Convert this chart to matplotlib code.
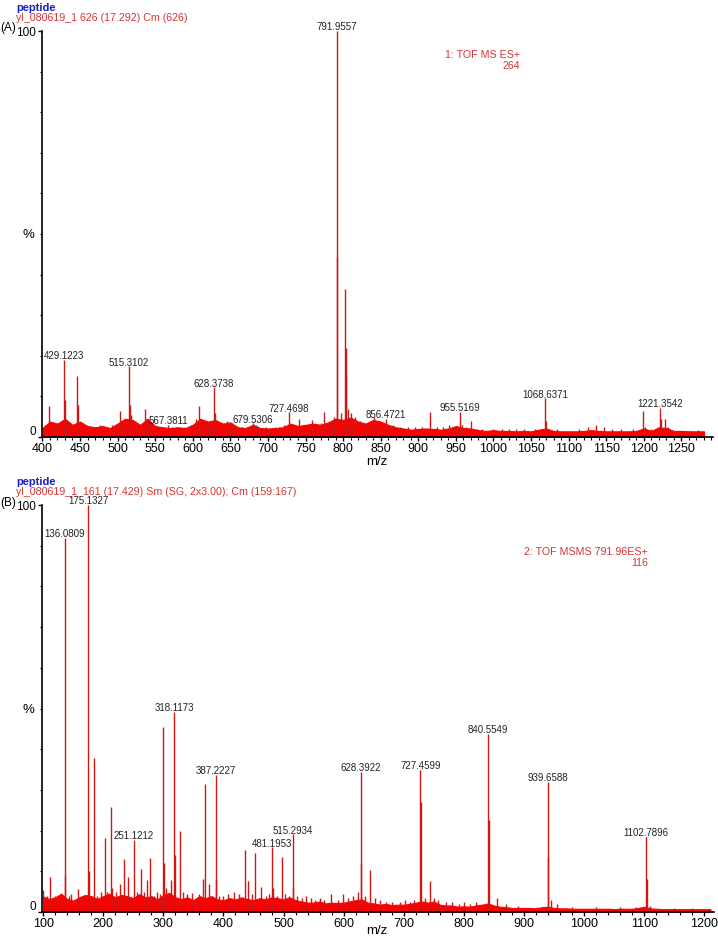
import numpy as np
import matplotlib
matplotlib.use("Agg")
import matplotlib.pyplot as plt
from matplotlib.ticker import MultipleLocator, FixedLocator

plt.rcParams['font.family'] = ['Liberation Sans', 'DejaVu Sans']

# ---------------- panel A : TOF MS ES+ ----------------
a_base_mz = list(range(400, 1290, 10))
a_base_h = [2.2, 3.8, 3.3, 4.5, 3.0, 3.8, 2.7, 2.4, 2.7, 2.2,
            3.3, 4.5, 4.2, 3.0, 4.5, 2.7, 2.4, 2.2, 2.4, 2.2,
            3.0, 4.5, 3.8, 4.2, 3.3, 3.6, 2.4, 2.2, 3.0, 2.2,
            2.1, 2.2, 2.4, 3.3, 2.7, 3.0, 3.3, 3.0, 3.6, 4.5,
            4.2, 4.8, 3.8, 3.3, 4.2, 3.8, 3.0, 2.4, 2.1, 1.8,
            2.0, 2.1, 2.0, 1.8, 2.1, 2.7, 2.2, 2.1, 1.7, 1.5,
            1.7, 1.5, 1.5, 1.4, 1.5, 1.4, 1.8, 2.1, 1.5, 1.4,
            1.4, 1.4, 1.5, 1.7, 1.5, 1.4, 1.4, 1.4, 1.4, 1.5,
            2.1, 1.5, 2.4, 2.2, 1.5, 1.5, 1.4, 1.4, 1.4]

a_peak_mz = [403, 409, 415, 421, 429.12, 430.1, 432, 437, 446, 447, 449, 455,
             460, 470, 477, 484, 493, 503, 505, 509, 515.31, 516.3, 518, 524,
             531, 537, 538, 541, 547, 553, 560, 567.38, 573, 579, 589, 597,
             604, 608, 610, 615, 620, 623, 628.37, 629.4, 635, 640, 646, 649,
             652, 659, 666, 672, 679.53, 684, 690, 697, 703, 709, 715, 721,
             727.47, 734, 741, 745, 753, 759, 766, 770, 775, 781, 785, 788,
             791.96, 792.46, 797, 802.95, 803.45, 803.95, 806, 810.9, 811.4,
             816, 822, 830, 836, 841, 845, 850, 856.47, 861, 866, 876, 886,
             895, 905, 915, 925, 933, 941, 948, 955.52, 958, 964, 970, 978,
             985, 1000, 1012, 1020, 1030, 1041, 1055, 1068.64, 1070, 1085,
             1100, 1114, 1126, 1136, 1147, 1158, 1170, 1186, 1199.3, 1201,
             1210, 1221.35, 1223, 1228, 1232, 1245, 1260, 1272]
a_peak_h = [3.0, 7.7, 3.0, 3.5, 19.0, 9.0, 4.0, 3.5, 15.0, 8.0, 3.0, 3.0,
            2.5, 2.5, 3.0, 2.5, 3.0, 6.5, 4.0, 3.5, 17.4, 8.0, 5.5, 3.0,
            3.0, 7.0, 4.5, 3.0, 3.0, 2.5, 2.5, 3.0, 2.5, 2.5, 2.5, 3.0,
            4.5, 7.6, 4.5, 3.5, 3.0, 3.5, 12.2, 6.0, 3.5, 3.0, 4.0, 3.0,
            3.5, 2.5, 2.5, 2.5, 3.4, 3.0, 2.0, 2.5, 2.0, 2.5, 2.5, 3.0,
            6.1, 3.0, 4.5, 2.5, 3.0, 4.3, 2.5, 3.5, 6.2, 3.5, 4.0, 5.0,
            100.0, 44.4, 6.0, 36.5, 22.0, 15.0, 7.0, 6.0, 4.0,
            5.0, 4.0, 3.0, 3.5, 5.0, 3.5, 3.5, 4.4, 3.0, 3.0, 2.5, 2.5,
            2.5, 2.5, 6.2, 2.5, 2.5, 3.0, 2.5, 6.2, 3.0, 2.5, 4.0, 2.0,
            2.0, 2.0, 2.0, 2.0, 2.0, 2.0, 2.0, 9.5, 4.0, 2.0,
            1.5, 2.0, 2.5, 3.0, 2.5, 2.0, 2.0, 2.0, 6.4, 2.5,
            2.0, 7.2, 4.4, 4.4, 2.5, 1.5, 1.5, 1.8]

a_lab_mz = [429.12, 515.31, 567.38, 628.37, 679.53, 727.47, 791.96,
            856.47, 955.52, 1068.64, 1221.35]
a_lab_h = [19.0, 17.4, 3.0, 12.2, 3.4, 6.1, 100.0, 4.4, 6.2, 9.5, 7.2]
a_lab_txt = ["429.1223", "515.3102", "567.3811", "628.3738", "679.5306",
             "727.4698", "791.9557", "856.4721", "955.5169", "1068.6371",
             "1221.3542"]

# ---------------- panel B : TOF MSMS 791.96ES+ ----------------
b_base_mz = list(range(100, 1220, 10))
b_base_h = [3.8, 3.2, 3.6, 4.5, 3.2, 2.8, 3.6, 4.2, 3.9, 3.2,
            3.9, 4.5, 3.6, 4.2, 3.9, 3.4, 4.4, 3.6, 3.9, 3.1,
            4.2, 4.7, 3.6, 3.2, 3.6, 2.9, 3.9, 3.4, 3.9, 3.1,
            2.9, 3.4, 3.1, 3.6, 3.2, 2.9, 3.4, 3.1, 3.6, 3.4,
            3.1, 3.6, 2.9, 2.6, 2.3, 2.3, 2.6, 2.1, 2.3, 2.2,
            2.3, 2.6, 2.9, 3.1, 2.3, 2.1, 1.8, 2.0, 1.7, 1.8,
            1.8, 2.0, 2.3, 2.6, 2.3, 2.6, 1.8, 1.6, 1.6, 1.3,
            1.4, 1.3, 1.6, 1.8, 2.1, 1.6, 1.3, 1.2, 1.0, 1.0,
            1.0, 1.0, 0.9, 1.2, 1.3, 1.0, 0.9, 0.9, 0.8, 0.8,
            0.8, 0.8, 0.8, 0.8, 0.8, 0.7, 0.8, 0.8, 0.8, 1.0,
            1.3, 0.9, 0.8, 0.7, 0.7, 0.7, 0.7, 0.7, 0.7, 0.7,
            0.7, 0.7]

b_peak_mz = [100.3, 106, 111.5, 120, 128, 136.08, 137.1, 143, 147, 157.6,
             165, 175.13, 176.1, 184.2, 190, 196, 202.5, 206, 212.5, 214,
             222, 228.5, 235.1, 241.8, 250.7, 256, 262.4, 267, 272.4, 278.4,
             284, 289.5, 294, 300, 301, 305, 312.3, 318.12, 319.1, 327.3,
             333, 340, 348.3, 356, 360, 365.6, 368.9, 376, 387.22, 388.2,
             393, 400, 408, 417, 426, 435.4, 441.4, 447, 452.6, 462.6, 470,
             475, 481.2, 482.2, 489, 497.5, 503, 509, 515.29, 516.3, 523,
             530, 538, 545, 552, 560, 568, 579.6, 590, 598.5, 607, 615, 623,
             628.39, 629.4, 636, 644, 652, 660, 670, 680, 694, 702, 710,
             717, 727.46, 728.46, 735, 743.3, 750, 757, 770, 780, 792, 800,
             810, 820, 840.55, 841.55, 855.7, 870, 890, 921, 939.66, 940.66,
             945, 955, 980, 1020, 1060, 1087, 1102.79, 1103.79, 1110, 1150,
             1180]
b_peak_h = [5.5, 4.0, 8.5, 4.0, 3.5, 92.0, 9.0, 4.0, 4.5, 5.6,
            4.0, 100.0, 10.0, 37.9, 4.0, 5.0, 18.1, 5.0, 25.9, 6.0,
            5.0, 7.0, 13.0, 8.7, 17.7, 5.0, 10.5, 5.0, 7.9, 13.2,
            4.0, 5.0, 4.5, 45.5, 12.0, 6.0, 7.9, 49.2, 14.0, 19.9,
            5.0, 4.5, 4.6, 3.5, 4.5, 8.0, 31.4, 7.0, 33.7, 8.0,
            4.0, 4.0, 4.5, 5.0, 4.5, 15.2, 7.5, 4.5, 14.4, 6.2, 4.0,
            4.5, 15.9, 6.0, 4.0, 13.4, 4.5, 4.0, 19.1, 6.0, 4.0,
            3.5, 4.0, 3.5, 3.0, 3.5, 3.0, 4.5, 3.0, 4.5, 3.5, 4.0, 5.0,
            34.5, 12.0, 4.0, 10.3, 3.5, 3.0, 2.5, 2.5, 2.5, 3.0, 2.5,
            3.0, 35.0, 27.0, 3.5, 7.6, 3.5, 3.0, 2.5, 2.5, 2.0, 2.5,
            2.0, 2.5, 43.7, 22.6, 3.4, 2.0, 1.5, 1.2, 32.0, 13.6,
            3.0, 2.0, 1.2, 1.2, 1.2, 1.2, 18.5, 8.0, 1.5, 1.0,
            1.0]

b_lab_mz = [136.08, 175.13, 251.12, 318.12, 387.22, 481.2, 515.29,
            628.39, 727.46, 840.55, 939.66, 1102.79]
b_lab_h = [92.0, 100.0, 17.7, 49.2, 33.7, 15.9, 19.1, 34.5, 35.0, 43.7,
           32.0, 18.5]
b_lab_txt = ["136.0809", "175.1327", "251.1212", "318.1173", "387.2227",
             "481.1953", "515.2934", "628.3922", "727.4599", "840.5549",
             "939.6588", "1102.7896"]

W, H = 718, 937
fig = plt.figure(figsize=(W / 100, H / 100), dpi=100)


def px_axes(x0, y0, x1, y1):
    # pixel box (top-left origin) -> figure axes
    return fig.add_axes([x0 / W, 1 - y1 / H, (x1 - x0) / W, (y1 - y0) / H])


def ftext(x, y, s, **kw):
    # figure text placed in pixels from the top-left corner
    return fig.text(x / W, 1 - y / H, s, **kw)


def draw_panel(ax, base_mz, base_h, peak_mz, peak_h, lab_mz, lab_h, lab_txt,
               xlim, major, minor):
    ax.fill_between(base_mz, 0, base_h, color='#ff0000', lw=0.8,
                    edgecolor='#ff0000')
    ax.vlines(peak_mz, 0, peak_h, color='#d01515', lw=1.0)
    for m, h, t in zip(lab_mz, lab_h, lab_txt):
        ax.annotate(t, (m, h), xytext=(0, 1.2), textcoords='offset points',
                    ha='center', va='baseline', fontsize=7, color='#222222',
                    annotation_clip=False)
    ax.set_xlim(*xlim)
    ax.set_ylim(0, 100)
    for s in ['top', 'right']:
        ax.spines[s].set_visible(False)
    ax.spines['left'].set_linewidth(1.2)
    ax.spines['bottom'].set_linewidth(1.2)
    ax.xaxis.set_major_locator(MultipleLocator(major))
    ax.xaxis.set_minor_locator(MultipleLocator(minor))
    ax.yaxis.set_major_locator(FixedLocator([0, 100]))
    ax.yaxis.set_minor_locator(MultipleLocator(10))
    ax.tick_params(axis='x', which='major', length=3, width=1,
                   labelsize=9, pad=0.5)
    ax.tick_params(axis='y', which='major', length=3, width=1,
                   labelsize=8.5, pad=1)
    ax.tick_params(axis='both', which='minor', length=1.8, width=0.8)
    # lift the "0" label a little so it clears the first x tick label
    ax.get_yticklabels()[0].set_verticalalignment('bottom')


# panel A
axA = px_axes(41.5, 32, 713, 438)
draw_panel(axA, a_base_mz, a_base_h, a_peak_mz, a_peak_h,
           a_lab_mz, a_lab_h, a_lab_txt, (398.8, 1292), 50, 10)
ftext(16, 8, "peptide", color='#1a1acc', fontsize=8, fontweight='bold',
      va='center')
ftext(16, 18, "yl_080619_1 626 (17.292) Cm (626)", color='#dd3333',
      fontsize=7.7, va='center')
ftext(0, 28, "(A)", fontsize=8.5, va='center')
ftext(28, 235, "%", fontsize=9.5, va='center', ha='center')
ftext(377, 462, "m/z", fontsize=9.5, va='center', ha='center')
ftext(520, 55, "1: TOF MS ES+", color='#dd3333', fontsize=7.7,
      ha='right', va='center')
ftext(520, 66, "264", color='#dd3333', fontsize=7.7, ha='right', va='center')

# panel B
axB = px_axes(41.5, 506, 714, 913)
draw_panel(axB, b_base_mz, b_base_h, b_peak_mz, b_peak_h,
           b_lab_mz, b_lab_h, b_lab_txt, (97.3, 1216), 100, 20)
ftext(16, 482, "peptide", color='#1a1acc', fontsize=8, fontweight='bold',
      va='center')
ftext(16, 492, "yl_080619_1  161 (17.429) Sm (SG, 2x3.00); Cm (159:167)",
      color='#dd3333', fontsize=7.7, va='center')
ftext(0, 503, "(B)", fontsize=8.5, va='center')
ftext(28, 710, "%", fontsize=9.5, va='center', ha='center')
ftext(377, 931, "m/z", fontsize=9.5, va='center', ha='center')
ftext(648, 552, "2: TOF MSMS 791.96ES+", color='#dd3333', fontsize=7.7,
      ha='right', va='center')
ftext(648, 563, "116", color='#dd3333', fontsize=7.7, ha='right', va='center')

fig.savefig("out.png", dpi=100)
